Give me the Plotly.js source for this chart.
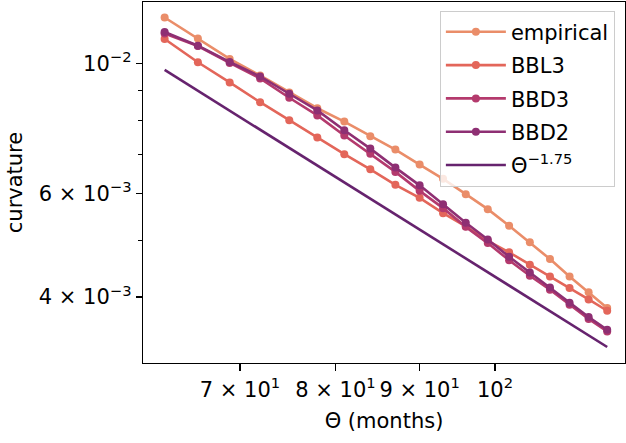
<!DOCTYPE html>
<html>
<head>
<meta charset="utf-8">
<script src="https://cdn.plot.ly/plotly-3.0.1.min.js"></script>
<style>
html,body{margin:0;padding:0;background:#fff;}
#chart{width:626px;height:443px;}
</style>
</head>
<body>
<div id="chart"></div>
<script>
// Θ (months)
const theta = [63, 66, 69, 72, 75, 78, 81, 84, 87, 90, 93, 96, 99, 102, 105, 108, 111, 114, 117];
const empirical = [0.011964, 0.011020, 0.010170, 0.009533, 0.008920, 0.008384, 0.007956, 0.007514, 0.007130, 0.006723, 0.006357, 0.005987, 0.005645, 0.005288, 0.004957, 0.004642, 0.004336, 0.004076, 0.003831];
const bbl3 = [0.010998, 0.010039, 0.009276, 0.008584, 0.008000, 0.007473, 0.007002, 0.006598, 0.006209, 0.005901, 0.005558, 0.005278, 0.004986, 0.004767, 0.004539, 0.004336, 0.004143, 0.003963, 0.003791];
const bbd3 = [0.011238, 0.010701, 0.010012, 0.009422, 0.008736, 0.008151, 0.007537, 0.007011, 0.006533, 0.006065, 0.005668, 0.005267, 0.004942, 0.004620, 0.004348, 0.004116, 0.003881, 0.003670, 0.003496];
const bbd2 = [0.011304, 0.010714, 0.010051, 0.009496, 0.008874, 0.008312, 0.007692, 0.007157, 0.006644, 0.006197, 0.005757, 0.005351, 0.005012, 0.004684, 0.004404, 0.004153, 0.003912, 0.003699, 0.003519];
// reference power-law line Θ^-1.75 (end points)
const refTheta = [63, 117];
const refCurv = [0.009741, 0.003289];

const xTickVals = [70, 80, 90, 100];
const xTickText = ['7 × 10<sup>1</sup>', '8 × 10<sup>1</sup>', '9 × 10<sup>1</sup>', '10<sup>2</sup>'];
const yTickVals = [0.004, 0.006, 0.01];
const yTickText = ['4 × 10<sup>−3</sup>', '6 × 10<sup>−3</sup>', '10<sup>−2</sup>'];
const yMinorVals = [0.005, 0.007, 0.008, 0.009];

const colors = {
  empirical: '#ea8d69',
  bbl3: '#e3665a',
  bbd3: '#b43a6d',
  bbd2: '#8e2f73',
  ref: '#66236e'
};

const FONT = 'DejaVu Sans, sans-serif';

function series(name, y, color, group) {
  return {
    x: theta, y: y, name: name, type: 'scatter', mode: 'lines+markers',
    line: {color: color, width: 2.6},
    marker: {color: color, size: 8},
    legendgroup: group
  };
}

const data = [
  series('empirical', empirical, colors.empirical, 'g1'),
  series('BBL3', bbl3, colors.bbl3, 'g2'),
  series('BBD3', bbd3, colors.bbd3, 'g3'),
  series('BBD2', bbd2, colors.bbd2, 'g4'),
  {
    x: refTheta, y: refCurv, name: 'Θ<sup>−1.75</sup>', type: 'scatter', mode: 'lines',
    line: {color: colors.ref, width: 2.6}, legendgroup: 'g5'
  }
];

const layout = {
  width: 626, height: 443,
  margin: {l: 143, r: 1, t: 2, b: 80},
  paper_bgcolor: '#ffffff', plot_bgcolor: '#ffffff',
  font: {family: FONT, size: 21, color: '#000'},
  showlegend: true,
  legend: {
    x: 0.979, xanchor: 'right', y: 0.976, yanchor: 'top',
    bgcolor: 'rgba(255,255,255,0.8)', bordercolor: '#cccccc', borderwidth: 1,
    font: {family: FONT, size: 21, color: '#000'},
    traceorder: 'grouped', tracegroupgap: 3, itemwidth: 60
  },
  xaxis: {
    type: 'log', range: [1.7862, 2.0790],
    tickmode: 'array', tickvals: xTickVals, ticktext: xTickText,
    ticks: 'outside', ticklen: 7, tickwidth: 1.2, tickcolor: '#000',
    showline: true, linecolor: '#000', linewidth: 1.3, mirror: true,
    showgrid: false, zeroline: false,
    tickfont: {family: FONT, size: 21, color: '#000'},
    title: {text: 'Θ (months)', font: {family: FONT, size: 21, color: '#000'}, standoff: 12}
  },
  yaxis: {
    type: 'log', range: [-2.5102, -1.8957],
    tickmode: 'array', tickvals: yTickVals, ticktext: yTickText,
    ticks: 'outside', ticklen: 6, tickwidth: 1.2, tickcolor: '#000',
    minor: {tickmode: 'array', tickvals: yMinorVals, ticks: 'outside', ticklen: 4, tickwidth: 1, tickcolor: '#000', showgrid: false},
    showline: true, linecolor: '#000', linewidth: 1.3, mirror: true,
    showgrid: false, zeroline: false,
    tickfont: {family: FONT, size: 21, color: '#000'},
    title: {text: 'curvature', font: {family: FONT, size: 21, color: '#000'}, standoff: 10}
  }
};

Plotly.newPlot('chart', data, layout, {displayModeBar: false, staticPlot: true});
</script>
</body>
</html>
